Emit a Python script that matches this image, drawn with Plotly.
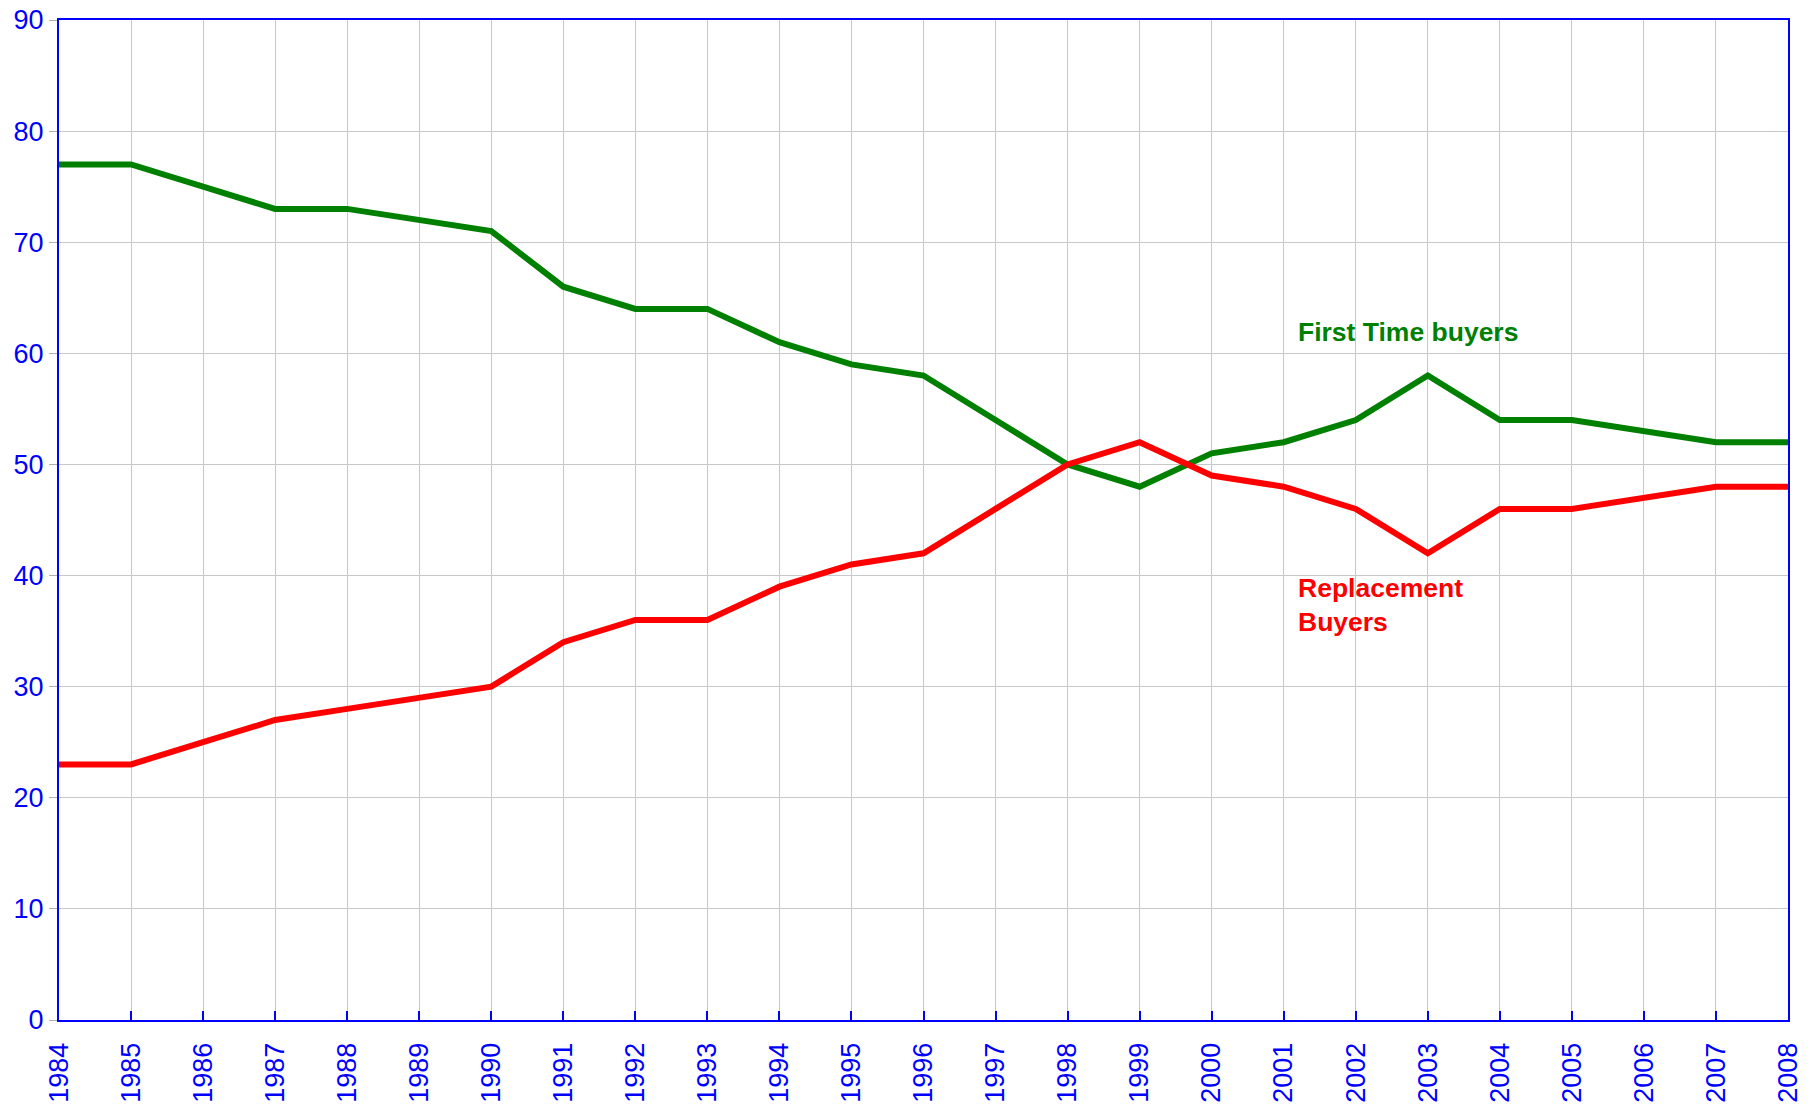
import plotly.graph_objects as go

years = list(range(1984, 2009))
first_time = [77, 77, 75, 73, 73, 72, 71, 66, 64, 64, 61, 59, 58, 54, 50, 48, 51, 52, 54, 58, 54, 54, 53, 52, 52]
replacement = [23, 23, 25, 27, 28, 29, 30, 34, 36, 36, 39, 41, 42, 46, 50, 52, 49, 48, 46, 42, 46, 46, 47, 48, 48]

fig = go.Figure()
fig.add_trace(go.Scatter(x=years, y=first_time, mode="lines", name="First Time buyers",
                         line=dict(color="#008000", width=6), cliponaxis=False))
fig.add_trace(go.Scatter(x=years, y=replacement, mode="lines", name="Replacement Buyers",
                         line=dict(color="#ff0000", width=6), cliponaxis=False))

fig.add_annotation(x=2001.17, y=61.9, xref="x", yref="y", text="<b>First Time buyers</b>",
                   showarrow=False, xanchor="left", yanchor="middle",
                   font=dict(family="Liberation Sans, Arial", size=26.5, color="#008000"))
fig.add_annotation(x=2001.17, y=40.4, xref="x", yref="y", text="<b>Replacement<br>Buyers</b>",
                   showarrow=False, xanchor="left", yanchor="top", align="left",
                   font=dict(family="Liberation Sans, Arial", size=26.5, color="#ff0000"))

fig.update_layout(
    width=1818, height=1105,
    margin=dict(l=59, r=30, t=20, b=85, autoexpand=False),
    paper_bgcolor="white", plot_bgcolor="white",
    showlegend=False,
    font=dict(family="Liberation Sans, Arial", size=27, color="#0000ff"),
)
fig.update_xaxes(range=[1984, 2008], dtick=1, tick0=1984, tickangle=-90,
                 showgrid=True, gridcolor="#c8c8c8", gridwidth=1,
                 showline=True, linecolor="#0000ff", linewidth=2, mirror=True,
                 ticks="inside", ticklen=9, tickcolor="#0000ff", tickwidth=1.5,
                 ticklabelstandoff=10, automargin=False, ticklabeloverflow="allow",
                 tickfont=dict(size=27, color="#0000ff"), zeroline=False)
fig.update_yaxes(range=[0, 90], dtick=10,
                 showgrid=True, gridcolor="#c8c8c8", gridwidth=1,
                 showline=True, linecolor="#0000ff", linewidth=2, mirror=True,
                 ticks="outside", ticklen=8, tickcolor="#b0b0b0", tickwidth=1,
                 automargin=False, ticklabeloverflow="allow",
                 tickfont=dict(size=27, color="#0000ff"), zeroline=False)

fig.write_html("out.html", config={"displayModeBar": False},
               post_script="document.body.style.margin='0';document.body.style.overflow='hidden';")
